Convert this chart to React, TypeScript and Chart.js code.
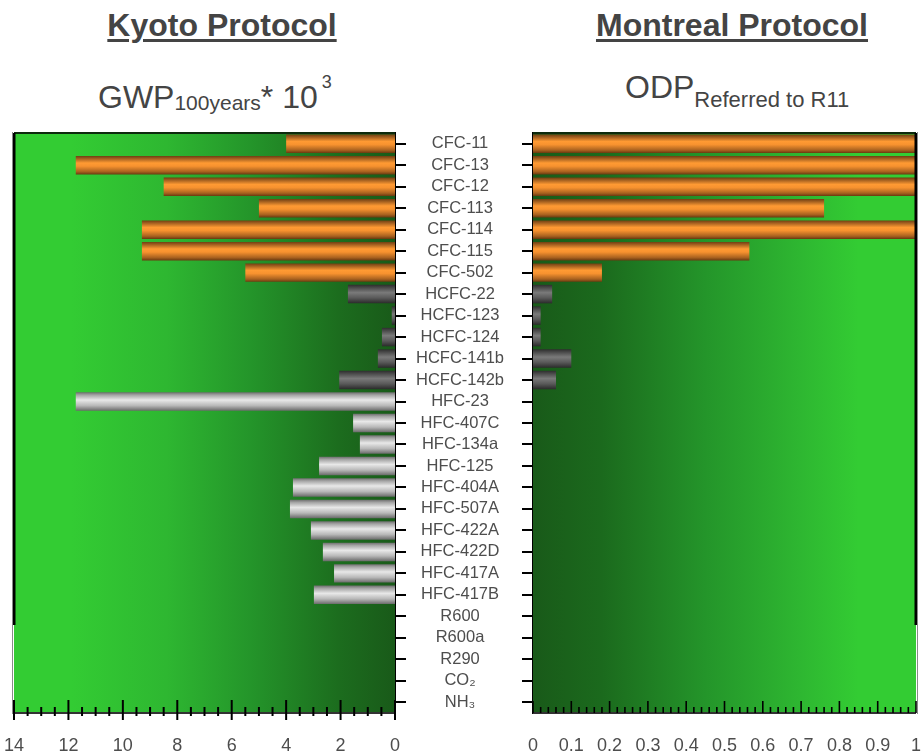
import React, { useEffect, useRef } from "react";
import { Chart, registerables } from "chart.js";
Chart.register(...registerables);

const categories = [
  "CFC-11", "CFC-13", "CFC-12", "CFC-113", "CFC-114", "CFC-115", "CFC-502",
  "HCFC-22", "HCFC-123", "HCFC-124", "HCFC-141b", "HCFC-142b",
  "HFC-23", "HFC-407C", "HFC-134a", "HFC-125", "HFC-404A", "HFC-507A",
  "HFC-422A", "HFC-422D", "HFC-417A", "HFC-417B",
  "R600", "R600a", "R290", "CO\u2082", "NH\u2083",
];
const groups = [
  "cfc", "cfc", "cfc", "cfc", "cfc", "cfc", "cfc",
  "hcfc", "hcfc", "hcfc", "hcfc", "hcfc",
  "hfc", "hfc", "hfc", "hfc", "hfc", "hfc", "hfc", "hfc", "hfc", "hfc",
  "nat", "nat", "nat", "nat", "nat",
];
// GWP 100 years, in thousands
const gwpValues = [
  4.0, 11.73, 8.5, 5.0, 9.3, 9.3, 5.5,
  1.73, 0.12, 0.48, 0.63, 2.05,
  11.73, 1.54, 1.29, 2.79, 3.75, 3.86, 3.09, 2.65, 2.24, 2.98,
  0, 0, 0, 0, 0,
];
// ODP referred to R11
const odpValues = [
  1, 1, 1, 0.76, 1, 0.565, 0.18,
  0.05, 0.02, 0.02, 0.1, 0.06,
  0, 0, 0, 0, 0, 0, 0, 0, 0, 0,
  0, 0, 0, 0, 0,
];
const gwpTicks = { min: 0, max: 14, step: 2, minor: 0.5 };
const odpTicks = { min: 0, max: 1, step: 0.1, minor: 0.02 };

const FONT = "'Liberation Sans', Arial, Helvetica, sans-serif";
const BAR_PCT = 0.86;

const stopsFor: Record<string, [number, string][]> = {
  cfc: [[0, "#6f3f12"], [0.12, "#9a5a1e"], [0.38, "#ff9a33"], [0.55, "#f7922f"], [0.85, "#a8611f"], [1, "#6a3a10"]],
  hcfc: [[0, "#2e2e2e"], [0.15, "#4a4a4a"], [0.42, "#7a7a7a"], [0.7, "#5a5a5a"], [1, "#2a2a2a"]],
  hfc: [[0, "#6e6e6e"], [0.15, "#a5a5a5"], [0.42, "#e8e8e8"], [0.72, "#b8b8b8"], [1, "#6a6a6a"]],
  nat: [[0, "#888"], [1, "#888"]],
};

function barFill(c: any) {
  const chart = c.chart;
  const y = chart.scales && chart.scales.y;
  const area = chart.chartArea;
  const g = groups[c.dataIndex] || "nat";
  if (!y || !area) return stopsFor[g][2] ? stopsFor[g][2][1] : "#888";
  const center = y.getPixelForValue(c.dataIndex);
  const h = (area.height / categories.length) * BAR_PCT;
  const grad = chart.ctx.createLinearGradient(0, center - h / 2, 0, center + h / 2);
  for (const [o, col] of stopsFor[g]) grad.addColorStop(o, col);
  return grad;
}

function bgPlugin(stops: [number, string][]) {
  return {
    id: "bgGrad",
    beforeDatasetsDraw(chart: any) {
      const { ctx, chartArea: a } = chart;
      const grad = ctx.createLinearGradient(a.left, 0, a.right, 0);
      for (const [o, c] of stops) grad.addColorStop(o, c);
      ctx.save();
      ctx.fillStyle = grad;
      ctx.fillRect(a.left, a.top, a.right - a.left, a.bottom - a.top);
      ctx.restore();
    },
  };
}

function framePlugin(side: "left" | "right", t: { min: number; max: number; step: number; minor: number }) {
  return {
    id: "frameTicks",
    afterDatasetsDraw(chart: any) {
      const { ctx, chartArea: a } = chart;
      const x = chart.scales.x;
      ctx.save();
      ctx.strokeStyle = "#0d2a0d";
      ctx.lineWidth = 2;
      ctx.beginPath();
      ctx.moveTo(a.left, a.top);
      ctx.lineTo(a.right, a.top);
      ctx.stroke();
      const ex = side === "left" ? a.left : a.right;
      const breakY = 625;
      ctx.strokeStyle = "#000";
      ctx.lineWidth = 3;
      ctx.beginPath();
      ctx.moveTo(ex, a.top);
      ctx.lineTo(ex, breakY);
      ctx.stroke();
      ctx.strokeStyle = "#8a8a8a";
      ctx.lineWidth = 1;
      ctx.beginPath();
      ctx.moveTo(side === "left" ? ex - 1.5 : ex + 1.5, a.top - 1);
      ctx.lineTo(side === "left" ? ex - 1.5 : ex + 1.5, a.bottom + 1);
      ctx.stroke();
      ctx.strokeStyle = "#333";
      ctx.lineWidth = 2;
      ctx.beginPath();
      ctx.moveTo(a.left, a.bottom);
      ctx.lineTo(a.right, a.bottom);
      ctx.stroke();
      ctx.strokeStyle = "#000";
      const n = Math.round((t.max - t.min) / t.minor);
      const per = Math.round(t.step / t.minor);
      for (let i = 0; i <= n; i++) {
        const v = t.min + i * t.minor;
        const px = x.getPixelForValue(v);
        const major = i % per === 0;
        ctx.beginPath();
        if (side === "left") {
          ctx.lineWidth = 2;
          if (major) {
            ctx.moveTo(px, a.bottom - 13);
            ctx.lineTo(px, a.bottom + 7);
          } else {
            ctx.moveTo(px, a.bottom - 6);
            ctx.lineTo(px, a.bottom + 3);
          }
        } else {
          ctx.lineWidth = 1.6;
          if (major) {
            ctx.moveTo(px, a.bottom - 12);
            ctx.lineTo(px, a.bottom);
          } else {
            ctx.moveTo(px, a.bottom - 6);
            ctx.lineTo(px, a.bottom);
          }
        }
        ctx.stroke();
      }
      ctx.restore();
    },
  };
}

const tickFont = { family: FONT, size: 18 };
const labelColor = "#4d4d4d";

const fitX = (s: any) => {
  s.height = 41;
  s.paddingLeft = 0;
  s.paddingRight = 0;
};

function KyotoChart() {
  const ref = useRef<HTMLCanvasElement | null>(null);
  useEffect(() => {
    if (!ref.current) return;
    const chart = new Chart(ref.current, {
      type: "bar",
      data: {
        labels: categories,
        datasets: [
          {
            data: gwpValues,
            backgroundColor: barFill as any,
            borderWidth: 0,
            barPercentage: BAR_PCT,
            categoryPercentage: 1,
          },
        ],
      },
      options: {
        indexAxis: "y",
        animation: false,
        responsive: false,
        layout: { padding: { left: 14, top: 133, right: 0, bottom: 0 } },
        plugins: { legend: { display: false }, tooltip: { enabled: false }, title: { display: false } },
        scales: {
          x: {
            type: "linear",
            min: gwpTicks.min,
            max: gwpTicks.max,
            reverse: true,
            position: "bottom",
            grid: { display: false },
            border: { display: false },
            ticks: { stepSize: gwpTicks.step, padding: 14, color: labelColor, font: tickFont, autoSkip: false, maxRotation: 0 },
            afterFit: fitX,
          },
          y: {
            type: "category",
            position: "right",
            grid: { display: true, drawOnChartArea: false, drawTicks: true, tickLength: 11, offset: false, color: "#000", lineWidth: 2 },
            border: { display: true, color: "#000", width: 2 },
            ticks: { autoSkip: false, crossAlign: "center", padding: 10, color: labelColor, font: { family: FONT, size: 16.5 } },
            afterFit: (s: any) => { s.width = 533 - 395; s.paddingTop = 0; s.paddingBottom = 0; },
          },
        },
      },
      plugins: [
        bgPlugin([[0, "#33cc33"], [0.15, "#33cc33"], [0.4, "#2eb731"], [0.62, "#24952a"], [0.85, "#1c6d1e"], [1, "#195a19"]]),
        framePlugin("left", gwpTicks),
      ],
    } as any);
    return () => chart.destroy();
  }, []);
  return <canvas ref={ref} width={533} height={754} style={{ position: "absolute", left: 0, top: 0 }} />;
}

function MontrealChart() {
  const ref = useRef<HTMLCanvasElement | null>(null);
  useEffect(() => {
    if (!ref.current) return;
    const chart = new Chart(ref.current, {
      type: "bar",
      data: {
        labels: categories,
        datasets: [
          {
            data: odpValues,
            backgroundColor: barFill as any,
            borderWidth: 0,
            barPercentage: BAR_PCT,
            categoryPercentage: 1,
          },
        ],
      },
      options: {
        indexAxis: "y",
        animation: false,
        responsive: false,
        layout: { padding: { left: 0, top: 133, right: 5, bottom: 0 } },
        plugins: { legend: { display: false }, tooltip: { enabled: false }, title: { display: false } },
        scales: {
          x: {
            type: "linear",
            min: odpTicks.min,
            max: odpTicks.max,
            position: "bottom",
            grid: { display: false },
            border: { display: false },
            ticks: {
              stepSize: odpTicks.step, padding: 14, color: labelColor, font: tickFont, autoSkip: false, maxRotation: 0,
              callback: (v: any) => String(Math.round(Number(v) * 10) / 10),
            },
            afterFit: fitX,
          },
          y: {
            type: "category",
            position: "left",
            grid: { display: true, drawOnChartArea: false, drawTicks: true, tickLength: 11, offset: false, color: "#000", lineWidth: 2 },
            border: { display: true, color: "#000", width: 2 },
            ticks: { display: false, autoSkip: false },
            afterFit: (s: any) => { s.width = 533 - 460; s.paddingTop = 0; s.paddingBottom = 0; },
          },
        },
      },
      plugins: [
        bgPlugin([[0, "#195a19"], [0.18, "#1b6a1d"], [0.45, "#24952a"], [0.7, "#2eb731"], [0.85, "#33cc33"], [1, "#33cc33"]]),
        framePlugin("right", odpTicks),
      ],
    } as any);
    return () => chart.destroy();
  }, []);
  return <canvas ref={ref} width={461} height={754} style={{ position: "absolute", left: 460, top: 0 }} />;
}

const titleColor = "#444444";

export default function App() {
  const base: React.CSSProperties = {
    position: "absolute",
    fontFamily: FONT,
    color: titleColor,
    whiteSpace: "nowrap",
    lineHeight: "32px",
  };
  const h1: React.CSSProperties = {
    ...base,
    top: 9,
    fontSize: 32,
    fontWeight: "bold",
    textDecoration: "underline",
    textDecorationThickness: "3px",
    textUnderlineOffset: "3px",
    transform: "translateX(-50%)",
  };
  return (
    <div style={{ position: "absolute", left: 0, top: 0, width: 921, height: 754, background: "#fff", overflow: "hidden" }}>
      <div style={{ ...h1, left: 222 }}>Kyoto Protocol</div>
      <div style={{ ...h1, left: 732 }}>Montreal Protocol</div>
      <div style={{ ...base, left: 98, top: 81, fontSize: 32 }}>
        <span>GWP</span>
        <span style={{ fontSize: 21, verticalAlign: "-2px", lineHeight: 0 }}>100years</span>
        <span style={{ lineHeight: 0 }}>* </span>
        <span>10</span>
        <span style={{ fontSize: 18, verticalAlign: "20px", marginLeft: 4, lineHeight: 0 }}>3</span>
      </div>
      <div style={{ ...base, left: 625, top: 71, fontSize: 32 }}>
        <span>ODP</span>
        <span style={{ fontSize: 22, verticalAlign: "-9px", lineHeight: 0 }}>Referred to R11</span>
      </div>
      <KyotoChart />
      <MontrealChart />
    </div>
  );
}
